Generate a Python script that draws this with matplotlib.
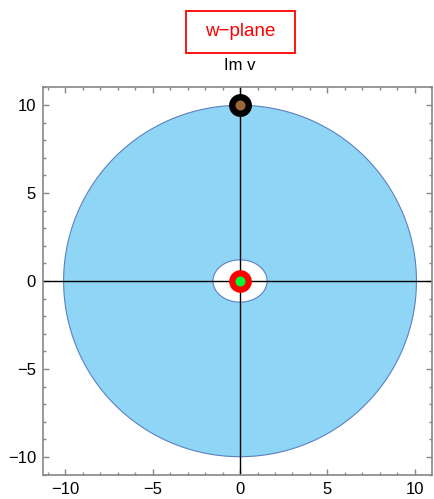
import numpy as np
import matplotlib
matplotlib.use("Agg")
import matplotlib.pyplot as plt
from matplotlib.path import Path
from matplotlib.patches import PathPatch, Rectangle
from matplotlib.ticker import MultipleLocator

plt.rcParams['font.family'] = ['Liberation Sans', 'DejaVu Sans']

# data
outer_semi_axes = [10.1, 9.98]   # outer boundary of image region (x, y)
inner_semi_axes = [1.55, 1.2]    # hole around origin (x, y)
point_top = [0.0, 10.0]
point_origin = [0.0, 0.0]
title_text = "w\u2212plane"
axis_label = "Im v"
x_limits = [-11.28, 10.99]
y_limits = [-11.02, 11.02]
major_step = 5
minor_step = 1

W, H = 435, 499
fig = plt.figure(figsize=(W / 100, H / 100), dpi=100)
ax = fig.add_axes([43 / W, 1 - 475 / H, (432 - 43) / W, (475 - 87) / H])

t = np.linspace(0, 2 * np.pi, 400)
ox = outer_semi_axes[0] * np.cos(t)
oy = outer_semi_axes[1] * np.sin(t)
ix = inner_semi_axes[0] * np.cos(t[::-1])
iy = inner_semi_axes[1] * np.sin(t[::-1])
verts = np.concatenate([np.column_stack([ox, oy]), np.column_stack([ix, iy])])
codes = ([Path.MOVETO] + [Path.LINETO] * (len(t) - 2) + [Path.CLOSEPOLY]) * 2
path = Path(verts, codes)
ax.add_patch(PathPatch(path, facecolor='#8fd5f6', edgecolor='#5d80c2', lw=0.8, zorder=1))

ax.axhline(0, color='black', lw=1.0, zorder=2)
ax.axvline(0, color='black', lw=1.0, zorder=2)

ax.plot(point_top[0], point_top[1], 'o', ms=16.5, color='black', mec='none', zorder=4, clip_on=False)
ax.plot(point_top[0], point_top[1], 'o', ms=7.2, color='#9a6836', mec='none', zorder=5, clip_on=False)
ax.plot(point_origin[0], point_origin[1], 'o', ms=16.3, color='#ff0000', mec='none', zorder=4)
ax.plot(point_origin[0], point_origin[1], 'o', ms=7.2, color='#00ff33', mec='none', zorder=5)

ax.set_xlim(*x_limits)
ax.set_ylim(*y_limits)
ax.xaxis.set_major_locator(MultipleLocator(major_step))
ax.yaxis.set_major_locator(MultipleLocator(major_step))
ax.xaxis.set_minor_locator(MultipleLocator(minor_step))
ax.yaxis.set_minor_locator(MultipleLocator(minor_step))
ax.tick_params(which='both', direction='in', top=True, right=True, color='#888888',
               labelsize=12, labelcolor='black', width=1.0)
ax.tick_params(which='major', length=4.5, pad=5)
ax.tick_params(which='minor', length=2.5)
ax.tick_params(axis='x', labeltop=False)
ax.tick_params(axis='y', labelright=False)
for s in ax.spines.values():
    s.set_color('#888888')
    s.set_linewidth(1.2)

# title box
fig.add_artist(Rectangle((186 / W, 1 - 53 / H), (295 - 186) / W, (53 - 11) / H,
                         transform=fig.transFigure, facecolor='white', edgecolor='#ff0000', lw=1.3))
fig.text(240.5 / W, 1 - 31.5 / H, title_text, color='#ff0000', fontsize=13.5, ha='center', va='center')
fig.text(240 / W, 1 - 65.5 / H, axis_label, color='black', fontsize=12, ha='center', va='center')

fig.savefig("out.png", dpi=100)
